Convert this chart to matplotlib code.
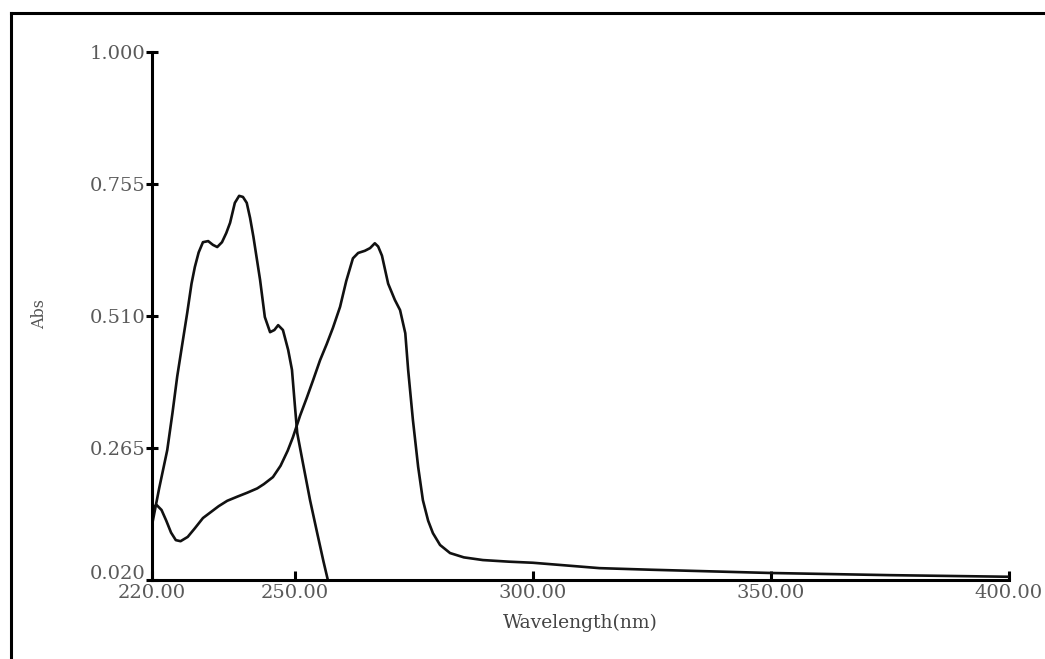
import matplotlib
matplotlib.use('Agg')
import matplotlib.pyplot as plt
from matplotlib.lines import Line2D
from matplotlib.transforms import ScaledTranslation

# spectrum 1 (short wavelength band)
wl1 = [220.2, 221.5, 223.2, 224.3, 225.3, 226.4, 227.4, 228.3, 229.0, 229.8,
       230.7, 231.8, 232.8, 233.7, 234.7, 235.6, 236.4, 237.4, 238.3, 239.1,
       239.9, 240.6, 241.3, 242.7, 243.7, 244.8, 245.7, 246.5, 247.5, 248.6,
       249.4, 250.0, 250.5, 251.7, 253.2, 254.7, 256.0, 257.2]
abs1 = [0.131, 0.190, 0.261, 0.330, 0.398, 0.460, 0.516, 0.570, 0.601, 0.628,
        0.647, 0.649, 0.642, 0.638, 0.647, 0.664, 0.683, 0.720, 0.733, 0.731,
        0.720, 0.692, 0.657, 0.577, 0.508, 0.480, 0.484, 0.493, 0.484, 0.447,
        0.410, 0.345, 0.293, 0.237, 0.168, 0.107, 0.055, 0.010]

# spectrum 2 (band near 267 nm with long tail)
wl2 = [220.0, 220.5, 221.0, 222.0, 223.0, 224.0, 225.0, 226.0, 227.5, 229.0,
       230.7, 232.5, 234.0, 235.8, 238.0, 240.0, 242.1, 243.5, 245.4, 247.0,
       248.5, 249.6, 251.1, 252.5, 253.8, 255.3, 256.7, 258.0, 259.5, 260.8,
       262.2, 263.3, 264.7, 265.8, 266.8, 267.5, 268.3, 269.6, 271.0, 272.1,
       273.2, 273.8, 274.8, 275.9, 276.9, 278.0, 279.0, 280.5, 282.6, 285.5,
       289.5, 295.0, 300.0, 314.0, 325.0, 350.0, 375.0, 400.0]
abs2 = [0.150, 0.157, 0.159, 0.150, 0.130, 0.108, 0.094, 0.092, 0.100, 0.116,
        0.135, 0.147, 0.157, 0.167, 0.175, 0.182, 0.190, 0.198, 0.211, 0.232,
        0.260, 0.285, 0.325, 0.358, 0.390, 0.428, 0.458, 0.488, 0.527, 0.575,
        0.617, 0.627, 0.631, 0.636, 0.645, 0.639, 0.622, 0.570, 0.540, 0.521,
        0.478, 0.410, 0.317, 0.230, 0.168, 0.130, 0.107, 0.085, 0.070, 0.062,
        0.057, 0.054, 0.052, 0.042, 0.039, 0.033, 0.029, 0.026]

xticks = [220, 250, 300, 350, 400]
yticks = [0.020, 0.265, 0.510, 0.755, 1.000]

fig = plt.figure(figsize=(10.45, 6.59), dpi=100)
ax = fig.add_axes([152/1045, 1 - 580/659, (1009 - 152)/1045, (580 - 52)/659])

ax.plot(wl1, abs1, color='#111111', lw=1.9, solid_joinstyle='round')
ax.plot(wl2, abs2, color='#111111', lw=1.9, solid_joinstyle='round')

ax.set_xlim(220, 400)
ax.set_ylim(0.020, 1.000)
ax.set_xticks(xticks)
ax.set_xticklabels(['%.2f' % v for v in xticks])
ax.set_yticks(yticks)
ax.set_yticklabels(['%.3f' % v for v in yticks])

for s in ['top', 'right']:
    ax.spines[s].set_visible(False)
for s in ['left', 'bottom']:
    ax.spines[s].set_linewidth(2.2)
    ax.spines[s].set_color('black')

for lab in ax.get_xticklabels() + ax.get_yticklabels():
    lab.set_fontfamily('DejaVu Serif')
    lab.set_fontsize(14)
    lab.set_color('#5a5a5a')

ax.tick_params(axis='x', direction='in', length=6.5, width=2.2, pad=3)
ax.tick_params(axis='y', direction='inout', length=9, width=2.2, pad=0)

# bottom y label sits a little above its tick
lab0 = ax.get_yticklabels()[0]
lab0.set_transform(lab0.get_transform() + ScaledTranslation(0, 8/100, fig.dpi_scale_trans))

ax.set_xlabel('Wavelength(nm)', fontfamily='DejaVu Serif', fontsize=13.5,
              color='#444444', labelpad=8)
fig.text(40/1045, 1 - 314/659, 'Abs', rotation=90, ha='center', va='center',
         fontfamily='DejaVu Serif', fontsize=11.5, color='#555555')

# outer frame (left and top edges)
fig.add_artist(Line2D([11/1045, 11/1045], [0, 1 - 13/659], color='black',
                      lw=2.2, transform=fig.transFigure))
fig.add_artist(Line2D([11/1045, 1], [1 - 13/659, 1 - 13/659], color='black',
                      lw=2.2, transform=fig.transFigure))

fig.savefig('out.png', dpi=100)
